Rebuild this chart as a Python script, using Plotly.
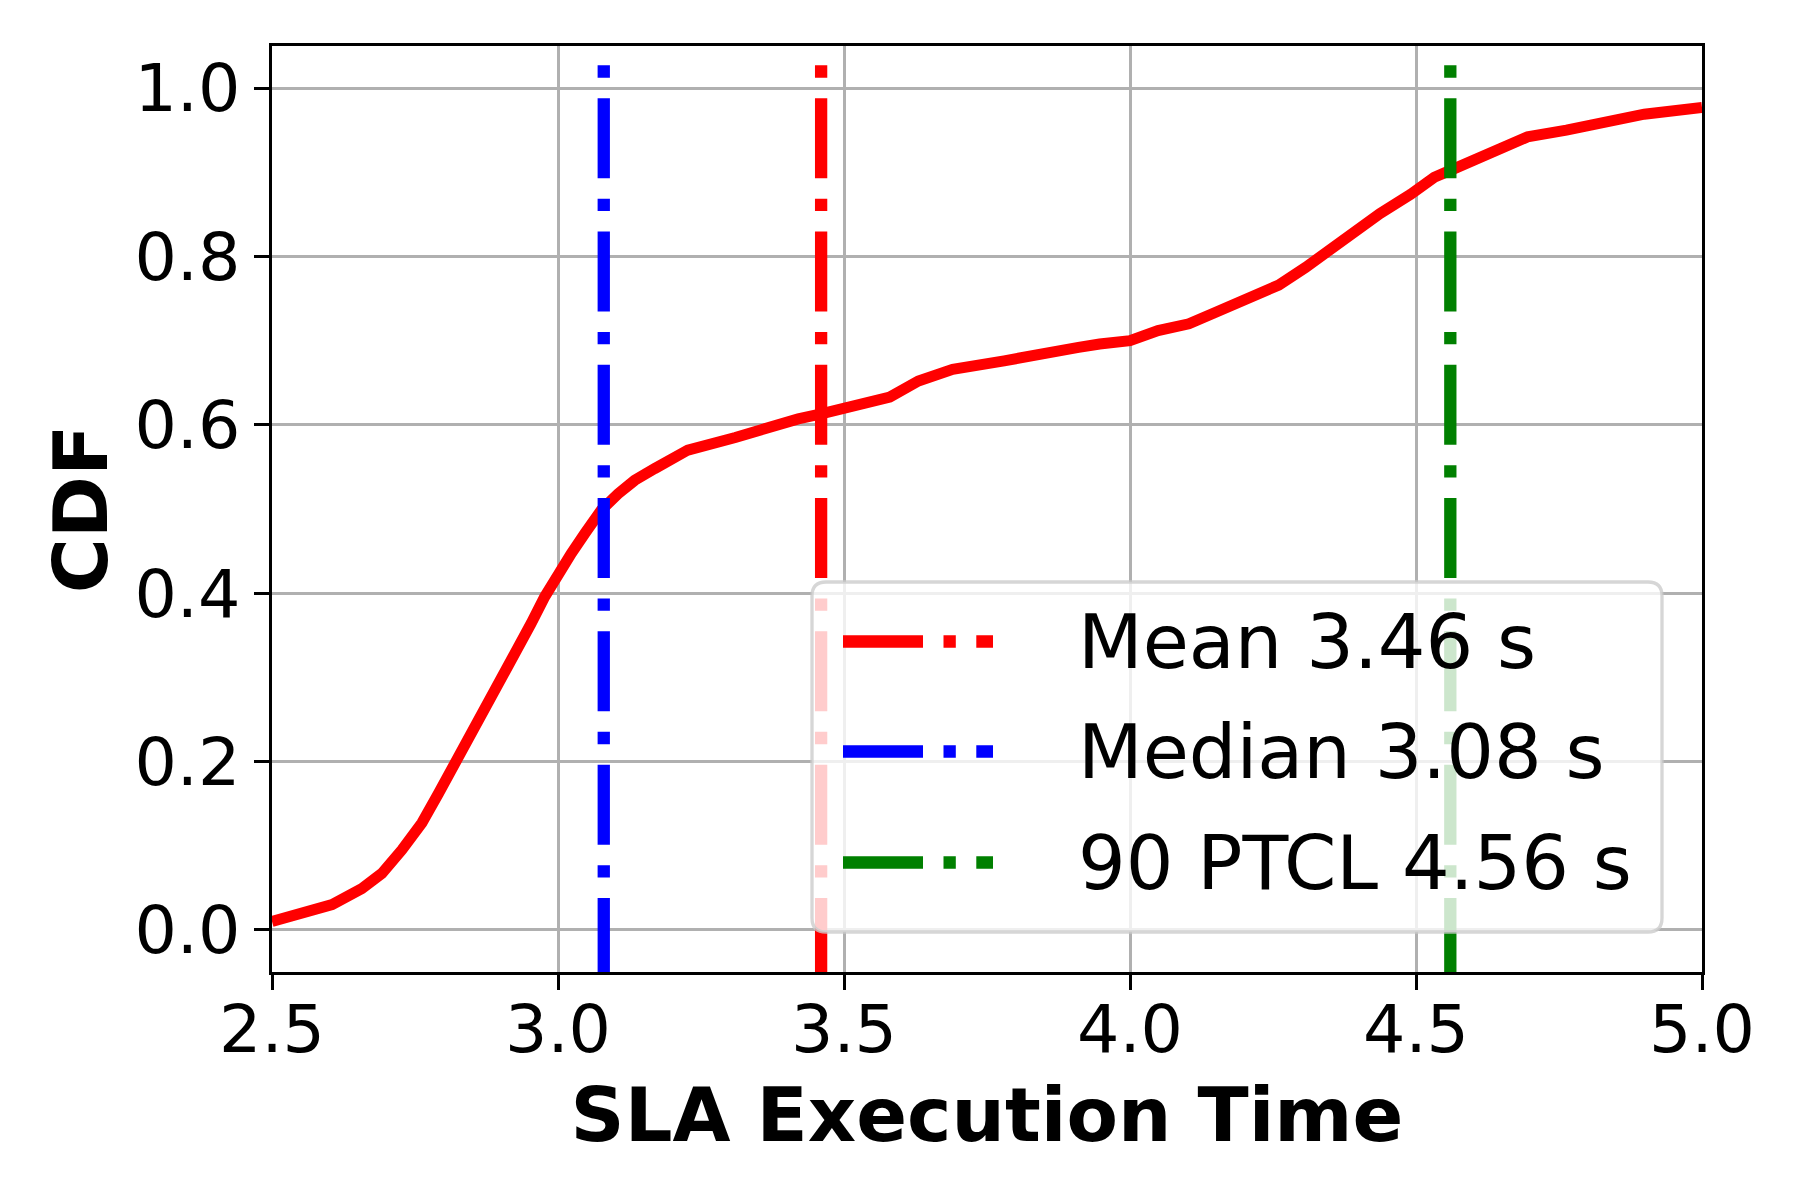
import plotly.graph_objects as go

# ---- data ----
CDF_X = [2.500, 2.558, 2.605, 2.657, 2.692, 2.727, 2.762, 2.791, 2.814, 2.837, 2.860,
         2.884, 2.907, 2.930, 2.953, 2.977, 3.000, 3.023, 3.047, 3.076, 3.105, 3.134,
         3.169, 3.198, 3.227, 3.31, 3.37, 3.42, 3.46, 3.50, 3.58, 3.63, 3.69, 3.78,
         3.86, 3.91, 3.947, 4.000, 4.049, 4.103, 4.151, 4.219, 4.260, 4.307, 4.355,
         4.389, 4.437, 4.491, 4.532, 4.559, 4.600, 4.627, 4.682, 4.695, 4.763, 4.831,
         4.899, 5.000]
CDF_Y = [0.010, 0.020, 0.030, 0.049, 0.067, 0.095, 0.127, 0.162, 0.190, 0.222, 0.249,
         0.281, 0.305, 0.336, 0.364, 0.396, 0.423, 0.447, 0.471, 0.499, 0.518, 0.534,
         0.548, 0.558, 0.570, 0.585, 0.598, 0.607, 0.613, 0.619, 0.633, 0.652, 0.666, 0.676,
         0.684, 0.692, 0.696, 0.700, 0.712, 0.720, 0.734, 0.752, 0.766, 0.787, 0.811,
         0.831, 0.851, 0.874, 0.894, 0.902, 0.914, 0.922, 0.936, 0.942, 0.950, 0.961,
         0.969, 0.977]

STAT_NAMES = ["Mean", "Median", "90 PTCL"]
STAT_VALUES = [3.46, 3.08, 4.56]
STAT_COLORS = ["#ff0000", "#0000ff", "#008000"]
VLINE_Y = [1.027, -0.12]

X_TICKS = [2.5, 3.0, 3.5, 4.0, 4.5, 5.0]
Y_TICKS = [0.0, 0.2, 0.4, 0.6, 0.8, 1.0]
X_RANGE = [2.5, 5.0]
Y_RANGE = [-0.05, 1.05]

# ---- geometry ----
W, H = 1800, 1200
ML, MR, MT, MB = 272, 98, 46, 228
PW, PH = W - ML - MR, H - MT - MB
FONT = "DejaVu Sans"


def px2paper(px, py):
    return (px - ML) / PW, (H - MB - py) / PH


fig = go.Figure()

fig.add_trace(go.Scatter(x=CDF_X, y=CDF_Y, mode="lines",
                         line=dict(color="#ff0000", width=11),
                         showlegend=False, hoverinfo="skip"))

for name, val, col in zip(STAT_NAMES, STAT_VALUES, STAT_COLORS):
    fig.add_trace(go.Scatter(x=[val, val], y=VLINE_Y, mode="lines",
                             line=dict(color=col, width=12.3, dash="12.3px,20.5px,80px,20.5px"),
                             name=f"{name} {val:.2f} s", showlegend=False,
                             hoverinfo="skip"))

# ---- manual legend (matplotlib-like) ----
bx0, by0, bx1, by1 = 812, 582, 1662, 932
r = 14
x0, y0 = px2paper(bx0, by0)
x1, y1 = px2paper(bx1, by1)
rx, ry = r / PW, r / PH
path = (f"M {x0+rx},{y0} L {x1-rx},{y0} Q {x1},{y0} {x1},{y0-ry} "
        f"L {x1},{y1+ry} Q {x1},{y1} {x1-rx},{y1} "
        f"L {x0+rx},{y1} Q {x0},{y1} {x0},{y1+ry} "
        f"L {x0},{y0-ry} Q {x0},{y0} {x0+rx},{y0} Z")
shapes = [dict(type="path", path=path, xref="paper", yref="paper",
               fillcolor="rgba(255,255,255,0.8)",
               line=dict(color="rgba(204,204,204,0.8)", width=3.3), layer="above")]

annotations = []
row_y = [641.5, 751.5, 862.5]
for (name, val, col), ry_px in zip(zip(STAT_NAMES, STAT_VALUES, STAT_COLORS), row_y):
    hx0, hy = px2paper(843, ry_px)
    hx1, _ = px2paper(993, ry_px)
    shapes.append(dict(type="line", xref="paper", yref="paper",
                       x0=hx0, x1=hx1, y0=hy, y1=hy, layer="above",
                       line=dict(color=col, width=12.3, dash="80px,20.5px,12.3px,20.5px")))
    tx, ty = px2paper(1076, ry_px)
    annotations.append(dict(text=f"{name} {val:.2f} s", xref="paper", yref="paper",
                            x=tx, y=ty, xanchor="left", yanchor="middle",
                            showarrow=False, font=dict(family=FONT, size=75, color="black")))

axis_common = dict(showline=True, linecolor="black", linewidth=3.3, mirror=True,
                   ticks="outside", ticklen=15, tickwidth=3.3, tickcolor="black",
                   showgrid=True, gridcolor="#b0b0b0", gridwidth=3.3, zeroline=False,
                   tickfont=dict(family=FONT, size=66.7, color="black"),
                   tickformat=".1f")

fig.update_layout(
    width=W, height=H, autosize=False,
    margin=dict(l=ML, r=MR, t=MT, b=MB, pad=0),
    paper_bgcolor="white", plot_bgcolor="white",
    font=dict(family=FONT, color="black"),
    xaxis=dict(range=X_RANGE, tickvals=X_TICKS, ticklabelstandoff=-18,
               title=dict(text="<b>SLA Execution Time</b>", standoff=22,
                          font=dict(family=FONT, size=75, color="black")),
               **axis_common),
    yaxis=dict(range=Y_RANGE, tickvals=Y_TICKS,
               title=dict(text="<b>CDF</b>", standoff=3,
                          font=dict(family=FONT, size=75, color="black")),
               **axis_common),
    shapes=shapes,
    annotations=annotations,
    showlegend=False,
)

fig.write_html("out.html", config={"displayModeBar": False},
               post_script="document.body.style.margin='0';document.body.style.overflow='hidden';")
